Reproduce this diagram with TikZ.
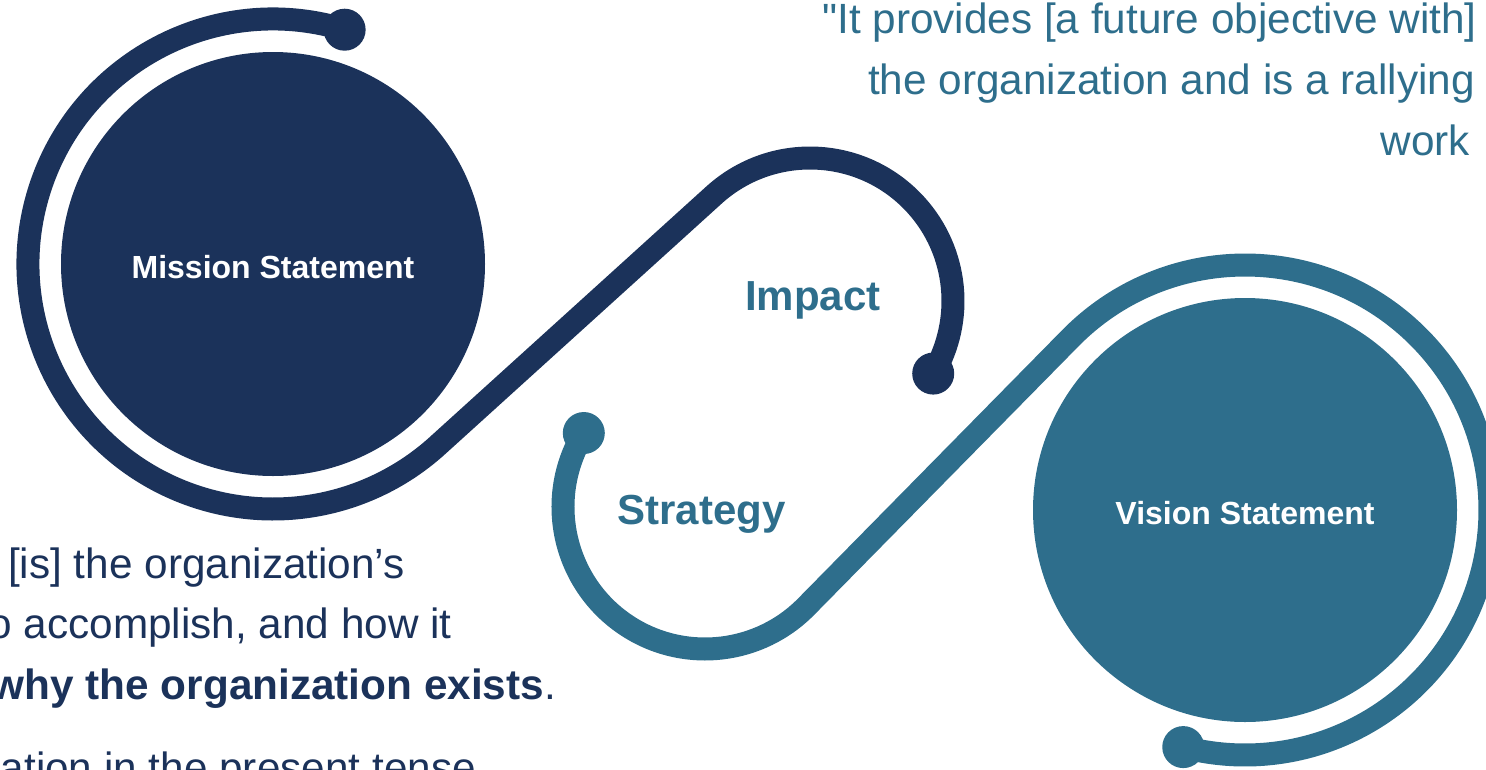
\documentclass[tikz,border=0pt]{standalone}
\usepackage{fontspec}
\setmainfont{Liberation Sans}[Ligatures=TeXOff]
\usetikzlibrary{calc}
\definecolor{navy}{HTML}{1B325A}
\definecolor{steel}{HTML}{2E6E8C}
\begin{document}
\begin{tikzpicture}[x=1pt,y=1pt,
  ring/.style={line width=23pt},
  disc/.style={circle, inner sep=0pt, minimum size=424pt, text=white,
    text height=28pt, text depth=0pt,
    font=\fontsize{32}{38}\selectfont\bfseries},
  knob/.style={circle, inner sep=0pt, minimum size=42pt},
  heading/.style={font=\fontsize{42}{50}\selectfont\bfseries, text=steel,
    inner sep=0pt, anchor=base},
  body/.style={font=\fontsize{42.3}{50}\selectfont, inner sep=0pt}]
\useasboundingbox (0,0) rectangle (1486,-769);
\clip (0,0) rectangle (1486,-769);

% the two statement discs
\node[disc, fill=navy] (mission) at (273,-264) {Mission Statement};
\node[disc, fill=steel] (vision) at (1245,-510) {Vision Statement};

% centres of the two small turning arcs
\coordinate (impactc) at (810,-301);
\coordinate (strategyc) at (705,-507);

% navy swoop: around the mission disc, across, and over "Impact"
\draw[ring, navy]
  ($(mission.center)+(73:245)$) coordinate (mstart)
  arc[start angle=73, end angle=312.2, radius=245]
  -- ($(impactc)+(132.2:143)$)
  arc[start angle=132.2, end angle=-30.5, radius=143] coordinate (iend);
\node[knob, fill=navy] (mknob) at (mstart) {};
\node[knob, fill=navy] (iknob) at (iend) {};

% teal swoop: under "Strategy", across, and around the vision disc
\draw[ring, steel]
  ($(strategyc)+(148.6:142)$) coordinate (sstart)
  arc[start angle=148.6, end angle=315.5, radius=142]
  -- ($(vision.center)+(135.5:245)$)
  arc[start angle=135.5, end angle=-104.6, radius=245] coordinate (vend);
\node[knob, fill=steel] (sknob) at (sstart) {};
\node[knob, fill=steel] (vknob) at (vend) {};

% arc labels
\node[heading] (impact) at (813,-310.5) {Impact};
\node[heading] (strategy) at (701.5,-524.5) {Strategy};

% quotation, upper right
\node[body, text=steel, anchor=base east] (q1) at (1477,-33) {"It provides [a future objective with]};
\node[body, text=steel, anchor=base east] (q2) at (1475,-94) {the organization and is a rallying};
\node[body, text=steel, anchor=base east] (q3) at (1470,-155) {work};

% description, lower left
\node[body, text=navy, anchor=base east] (d1) at (405,-578) {[is] the organization’s};
\node[body, text=navy, anchor=base east] (d2) at (452,-638) {o accomplish, and how it};
\node[body, text=navy, anchor=base east] (d3) at (556,-699) {\textbf{why the organization exists}.};
\node[body, text=navy, anchor=base east] (d4) at (476,-782) {ation in the present tense};
\end{tikzpicture}
\end{document}
